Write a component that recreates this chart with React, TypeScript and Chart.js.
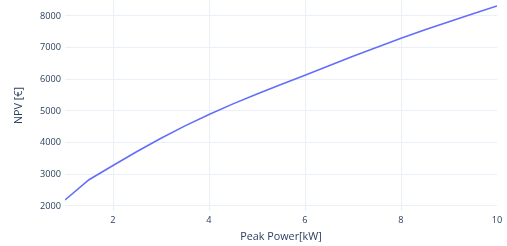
import React, { useEffect, useRef } from "react";
import { Chart, registerables } from "chart.js";

Chart.register(...registerables);

const peakPower = [1, 1.5, 2, 2.5, 3, 3.5, 4, 4.5, 5, 5.5, 6, 6.5, 7, 7.5, 8, 8.5, 9, 9.5, 10];
const npv = [2190, 2830, 3280, 3720, 4140, 4530, 4890, 5225, 5540, 5840, 6130, 6430, 6725, 7015, 7300, 7565, 7820, 8070, 8315];
const xTicks = [2, 4, 6, 8, 10];
const yTicks = [2000, 3000, 4000, 5000, 6000, 7000, 8000];

const TEXT = "#2a3f5f";
const GRID = "#ebf0f8";
const FONT = "'Open Sans', sans-serif";

export default function App() {
  const ref = useRef<HTMLCanvasElement | null>(null);
  useEffect(() => {
    document.body.style.margin = "0";
    const canvas = ref.current;
    if (!canvas) return;
    const chart = new Chart(canvas, {
      type: "line",
      data: {
        datasets: [
          {
            data: peakPower.map((p, i) => ({ x: p, y: npv[i] })),
            borderColor: "#636efa",
            borderWidth: 1.6,
            pointRadius: 0,
            tension: 0,
            fill: false,
          },
        ],
      },
      options: {
        animation: false,
        responsive: false,
        layout: { padding: { left: 0, right: 10, top: 0, bottom: 0 } },
        plugins: { legend: { display: false }, tooltip: { enabled: false } },
        scales: {
          x: {
            type: "linear",
            min: 1,
            max: 10,
            afterBuildTicks: (s: any) => {
              s.ticks = xTicks.map((v) => ({ value: v }));
            },
            afterFit: (s: any) => {
              s.height = 35;
            },
            border: { display: false },
            grid: {
              drawTicks: false,
              color: (c: any) => (c.tick && c.tick.value === 10 ? "rgba(0,0,0,0)" : GRID),
              lineWidth: 1,
            },
            ticks: {
              padding: 3.5,
              color: TEXT,
              font: { family: FONT, size: 9.2 },
              maxRotation: 0,
              callback: (v: any) => String(v),
            },
            title: {
              display: true,
              text: "Peak Power[kW]",
              color: TEXT,
              font: { family: FONT, size: 10.8 },
              padding: { top: 0, bottom: 2.5 },
            },
          },
          y: {
            type: "linear",
            min: 1842,
            max: 8505,
            afterBuildTicks: (s: any) => {
              s.ticks = yTicks.map((v) => ({ value: v }));
            },
            afterFit: (s: any) => {
              s.width = 65;
              s.paddingTop = 0;
              s.paddingBottom = 0;
            },
            border: { display: false },
            grid: { drawTicks: false, color: GRID, lineWidth: 1 },
            ticks: {
              padding: 4,
              color: TEXT,
              font: { family: FONT, size: 9.2 },
              callback: (v: any) => String(v),
            },
            title: {
              display: true,
              text: "NPV [€]",
              color: TEXT,
              font: { family: FONT, size: 10.8 },
              padding: { top: 12.5, bottom: 0 },
            },
          },
        },
      },
    } as any);
    return () => chart.destroy();
  }, []);
  return (
    <div style={{ width: 507, height: 246 }}>
      <canvas ref={ref} width={507} height={246} />
    </div>
  );
}
